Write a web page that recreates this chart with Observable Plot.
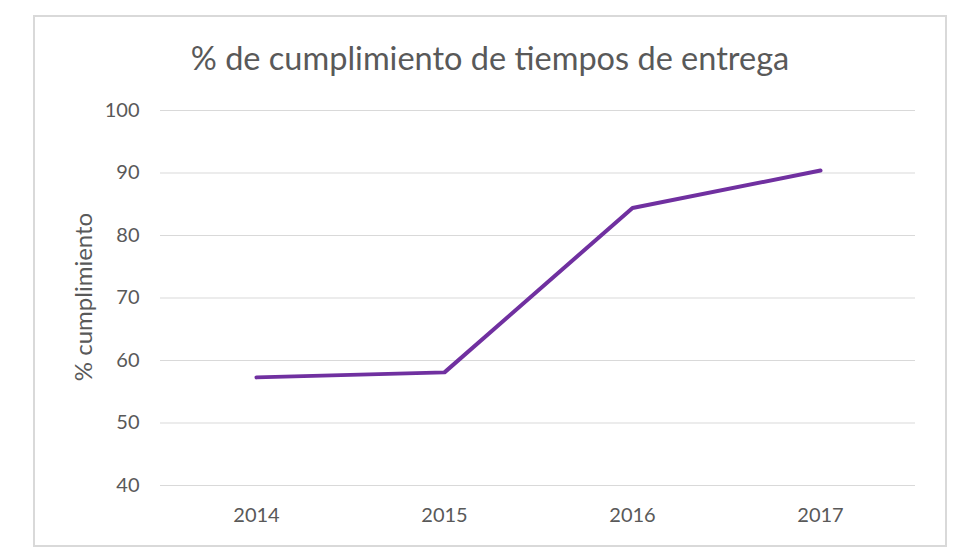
<!DOCTYPE html>
<html>
<head>
<meta charset="utf-8">
<script src="https://cdn.jsdelivr.net/npm/d3@7"></script>
<script src="https://cdn.jsdelivr.net/npm/@observablehq/plot@0.6"></script>
<style>
  html, body { margin: 0; padding: 0; background: #fff; }
  #wrap { position: relative; width: 980px; height: 560px; overflow: hidden; font-family: Lato, sans-serif; }
  #frame { position: absolute; left: 33px; top: 15px; width: 910px; height: 528px; border: 2px solid #d9d9d9; box-sizing: content-box; }
  #title { position: absolute; left: 0; width: 980px; top: 38px; text-align: center; font-size: 32.5px; color: #595959; line-height: 40px; }
  #ylabel { position: absolute; left: 82px; top: 297px; transform: translate(-50%, -50%) rotate(-90deg); font-size: 24px; color: #595959; white-space: nowrap; }
  #chart { position: absolute; left: 0; top: 0; }
</style>
</head>
<body>
<div id="wrap">
  <div id="frame"></div>
  <div id="chart"></div>
  <div id="title">% de cumplimiento de tiempos de entrega</div>
  <div id="ylabel">% cumplimiento</div>
</div>
<script>
const years = ["2014", "2015", "2016", "2017"];
const cumplimiento = [57.3, 58.1, 84.4, 90.4];
const yTicks = [40, 50, 60, 70, 80, 90, 100];

const data = years.map((y, i) => ({year: y, value: cumplimiento[i]}));

const chart = Plot.plot({
  width: 980,
  height: 560,
  marginLeft: 160,
  marginRight: 65,
  marginTop: 110,
  marginBottom: 75,
  style: {fontFamily: "Lato, sans-serif", fontSize: "20px", color: "#595959", background: "transparent"},
  x: {type: "point", domain: years, padding: 0.5, label: null},
  y: {domain: [40, 100], label: null},
  marks: [
    Plot.ruleY(yTicks, {stroke: "#d9d9d9", strokeWidth: 1}),
    Plot.axisY({ticks: yTicks, tickSize: 0, tickPadding: 21, label: null, fontSize: 20}),
    Plot.axisX({tickSize: 0, tickPadding: 22, label: null, fontSize: 20}),
    Plot.line(data, {x: "year", y: "value", stroke: "#7030A0", strokeWidth: 4, strokeLinecap: "round", strokeLinejoin: "round"})
  ]
});
document.getElementById("chart").appendChild(chart);
</script>
</body>
</html>
